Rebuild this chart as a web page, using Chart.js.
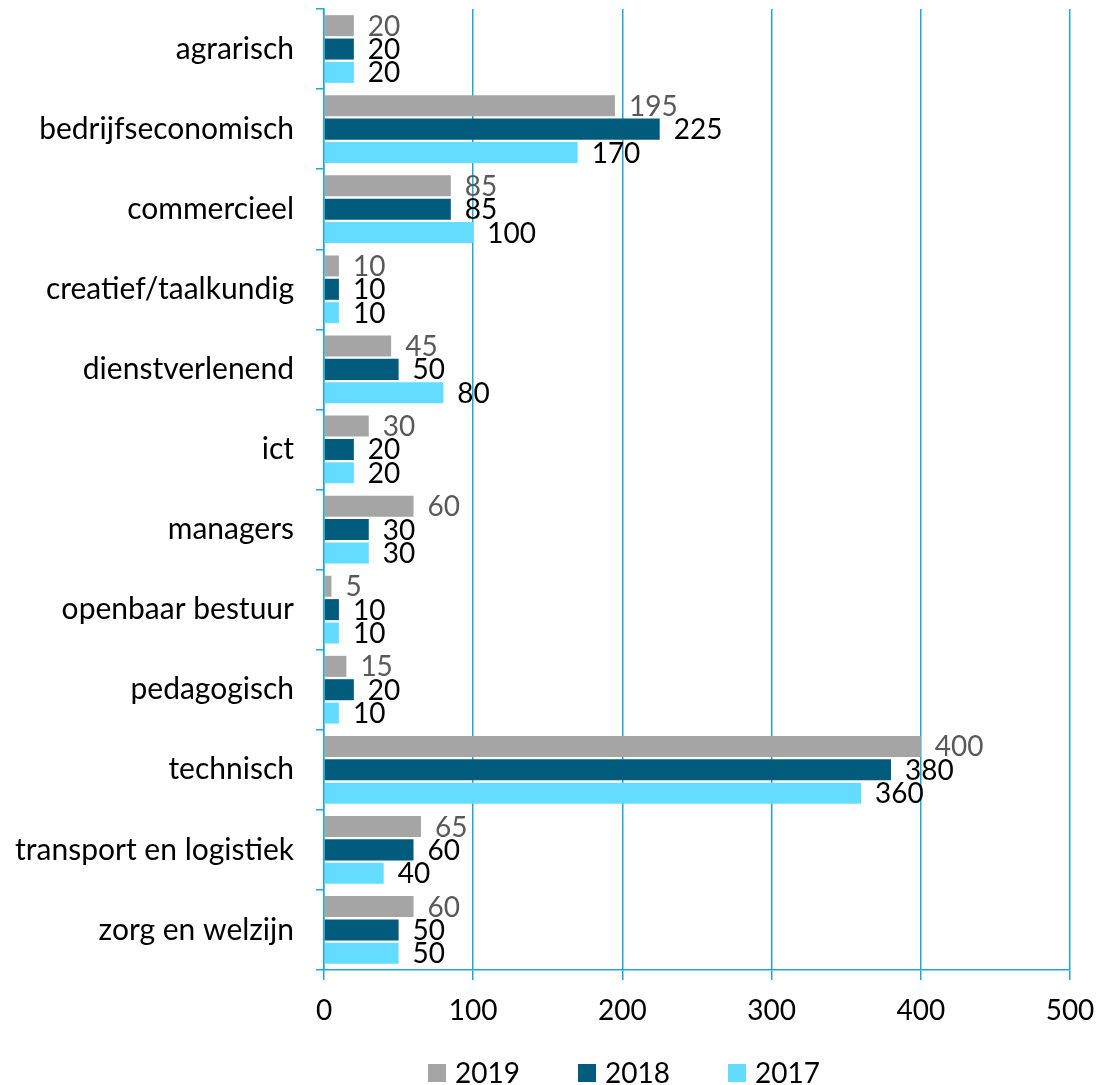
<!DOCTYPE html>
<html>
<head>
<meta charset="utf-8">
<script src="https://cdn.jsdelivr.net/npm/chart.js@4.4.0/dist/chart.umd.min.js"></script>
<style>
  body { margin: 0; background: #fff; }
  #wrap { width: 1111px; height: 1085px; }
</style>
</head>
<body>
<div id="wrap"><canvas id="myChart" width="1111" height="1085"></canvas></div>
<script>
const categories = ['agrarisch', 'bedrijfseconomisch', 'commercieel', 'creatief/taalkundig', 'dienstverlenend', 'ict',
    'managers', 'openbaar bestuur', 'pedagogisch', 'technisch', 'transport en logistiek', 'zorg en welzijn'];
const years = ['2019', '2018', '2017'];
const values2019 = [20, 195, 85, 10, 45, 30, 60, 5, 15, 400, 65, 60];
const values2018 = [20, 225, 85, 10, 50, 20, 30, 10, 20, 380, 60, 50];
const values2017 = [20, 170, 100, 10, 80, 20, 30, 10, 10, 360, 40, 50];
const xTicks = [0, 100, 200, 300, 400, 500];

const colors = ['#a5a5a5', '#005b7c', '#63dcff'];
const labelColors = ['#595959', '#000', '#000'];
const blue = '#1da8da';
const font = 'Lato, "Open Sans", sans-serif';

// labels at the end of each bar
const barLabels = {
    id: 'barLabels',
    afterDatasetsDraw(chart) {
        const ctx = chart.ctx;
        ctx.save();
        ctx.font = '28px ' + font;
        ctx.textAlign = 'left';
        ctx.textBaseline = 'middle';
        chart.data.datasets.forEach(function (ds, i) {
            chart.getDatasetMeta(i).data.forEach(function (bar, j) {
                ctx.fillStyle = labelColors[i];
                ctx.fillText(ds.data[j], bar.x + 14, bar.y + 1);
            });
        });
        ctx.restore();
    }
};

// legend under the axis
const bottomLegend = {
    id: 'bottomLegend',
    afterDraw(chart) {
        const ctx = chart.ctx;
        ctx.save();
        ctx.font = '28px ' + font;
        ctx.textBaseline = 'middle';
        chart.data.datasets.forEach(function (ds, i) {
            const x = 428 + i * 150;
            ctx.fillStyle = ds.backgroundColor;
            ctx.fillRect(x, 1064, 18, 18);
            ctx.fillStyle = '#000';
            ctx.fillText(ds.label, x + 27, 1074);
        });
        ctx.restore();
    }
};

const ctx = document.getElementById('myChart');
new Chart(ctx, {
    type: 'bar',
    data: {
        labels: categories,
        datasets: [
            { label: years[0], data: values2019, backgroundColor: colors[0] },
            { label: years[1], data: values2018, backgroundColor: colors[1] },
            { label: years[2], data: values2017, backgroundColor: colors[2] }
        ]
    },
    options: {
        indexAxis: 'y',
        responsive: false,
        animation: false,
        devicePixelRatio: 1,
        categoryPercentage: 0.875,
        barPercentage: 0.9,
        layout: { padding: { top: 9, right: 41, left: 0, bottom: 0 } },
        plugins: {
            legend: { display: false },
            tooltip: { enabled: false }
        },
        scales: {
            x: {
                min: 0,
                max: 500,
                afterBuildTicks: function (scale) {
                    scale.ticks = xTicks.map(v => ({ value: v }));
                },
                afterFit: function (scale) {
                    scale.height = 115;
                    scale.paddingLeft = 0;
                    scale.paddingRight = 0;
                },
                grid: { color: blue, lineWidth: 1.5, tickLength: 10 },
                border: { color: blue, width: 1.5 },
                ticks: { color: '#000', padding: 14, font: { family: font, size: 28 } }
            },
            y: {
                afterFit: function (scale) {
                    scale.width = 324;
                    scale.paddingTop = 0;
                    scale.paddingBottom = 0;
                },
                grid: { drawOnChartArea: false, color: blue, lineWidth: 1.5, tickLength: 8, offset: true },
                border: { color: blue, width: 1.5 },
                ticks: { color: '#000', padding: 22, font: { family: font, size: 30 } }
            }
        }
    },
    plugins: [barLabels, bottomLegend]
});
</script>
</body>
</html>
